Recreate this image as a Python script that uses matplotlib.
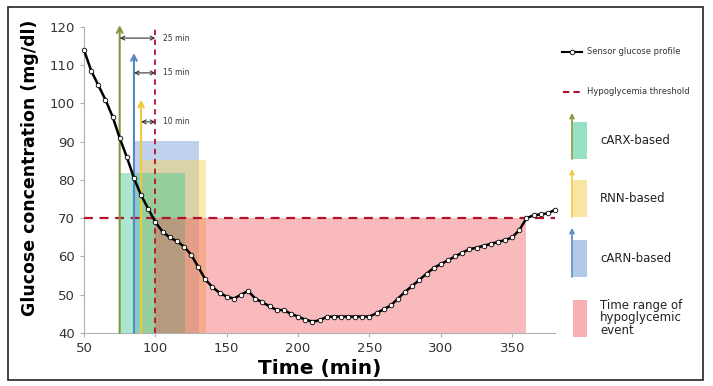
import matplotlib
matplotlib.use("Agg")
import matplotlib.pyplot as plt
from matplotlib.patches import Rectangle
import numpy as np

# ---- data ----
time_min = list(range(50, 385, 5))
glucose = [114, 108.6, 104.8, 101, 96.6, 91, 86, 80.5, 76, 72.5, 69,
           66.5, 65, 64, 62.6, 60.5, 57.3, 54, 52, 50.5, 49.5, 49, 50, 51,
           49, 48, 47, 46, 46, 45, 44.3, 43.5, 43, 43.3, 44.2, 44.3, 44.3, 44.3,
           44.3, 44.3, 44.3, 45.2, 46.2, 47.2, 49, 50.8, 52.3, 53.9, 55.5, 57,
           58, 59, 60, 61, 61.9, 62.3, 62.8, 63.3, 63.8, 64.3, 65, 66.9, 70,
           70.8, 71, 71.3, 72.2]
threshold = 70
event_start, event_end = 100, 360
methods = ["cARX-based", "RNN-based", "cARN-based"]
alarm_time = [75, 90, 85]             # prediction alarm times
range_end = [120.7, 135.4, 130.7]     # predicted-range end
range_top = [81.8, 85.2, 90.3]        # predicted level
arrow_top = [120.5, 101, 113.2]
lead_label = ["25 min", "10 min", "15 min"]
lead_y = [117.1, 95.2, 108]
x_ticks = [50, 100, 150, 200, 250, 300, 350]
y_ticks = [40, 50, 60, 70, 80, 90, 100, 110, 120]

fill_colors = ["#38c690", "#f8d465", "#7fa6dc"]
fill_alpha = [0.42, 0.5, 0.5]
draw_order = [2, 1, 0]   # blue, yellow, green on top
arrow_colors = ["#7f9a3c", "#f0c93a", "#5a86c2"]
red_fill = "#ee4a50"
red_alpha = 0.38
red_line = "#b3122c"

fig = plt.figure(figsize=(7.13, 3.86), dpi=100)
ax = fig.add_axes([84/713, 1-333/386, (555-84)/713, (333-27)/386])

# shaded ranges
for z, i in enumerate(draw_order):
    ax.add_patch(Rectangle((alarm_time[i], 40), range_end[i]-alarm_time[i],
                           range_top[i]-40, facecolor=fill_colors[i],
                           alpha=fill_alpha[i], edgecolor='none', zorder=1+z*0.1))
ax.add_patch(Rectangle((event_start, 40), event_end-event_start, threshold-40,
                       facecolor=red_fill, alpha=red_alpha, edgecolor='none', zorder=2))

# alarm arrows
for i in range(3):
    ax.annotate("", xy=(alarm_time[i], arrow_top[i]), xytext=(alarm_time[i], 40),
                arrowprops=dict(arrowstyle="->", color=arrow_colors[i], lw=1.5,
                                shrinkA=0, shrinkB=0), zorder=4,
                annotation_clip=False)
    ax.annotate("", xy=(alarm_time[i], lead_y[i]), xytext=(event_start, lead_y[i]),
                arrowprops=dict(arrowstyle="<->", color="#333333", lw=0.8,
                                shrinkA=0, shrinkB=0, mutation_scale=7), zorder=4)
    ax.text(105.5, lead_y[i], lead_label[i], fontsize=5.5, va='center', ha='left',
            color="#333333")

# threshold lines
ax.axhline(threshold, color=red_line, ls=(0, (4, 3)), lw=1.6, zorder=3)
ax.plot([event_start, event_start], [40, 120], color=red_line, ls=(0, (3, 2.5)),
        lw=1.3, zorder=3, clip_on=False)

# glucose profile
ax.plot(time_min, glucose, color='black', lw=1.8, marker='o', ms=3.3,
        mfc='white', mec='black', mew=0.6, zorder=5, clip_on=False)

ax.set_xlim(50, 380)
ax.set_ylim(40, 120)
ax.set_xticks(x_ticks)
ax.set_yticks(y_ticks)
for s in ['top', 'right']:
    ax.spines[s].set_visible(False)
for s in ['left', 'bottom']:
    ax.spines[s].set_color('#b0b0b0')
ax.tick_params(colors='#b0b0b0', labelcolor='#333333', labelsize=9.5, length=3)
ax.set_xlabel("Time (min)", fontsize=14.5, fontweight='bold', labelpad=3)
ax.set_ylabel("Glucose concentration (mg/dl)", fontsize=12.5, fontweight='bold')
ax.yaxis.set_label_coords(-0.095, 0.54)

# overlay for legend + frame (pixel coords)
ov = fig.add_axes([0, 0, 1, 1], facecolor='none')
ov.set_xlim(0, 713)
ov.set_ylim(386, 0)
ov.axis('off')
ov.add_patch(Rectangle((8, 7), 695, 373, fill=False, edgecolor='#222222', lw=1.2))

ov.plot([562, 582], [52, 52], color='black', lw=1.5)
ov.plot([572], [52], marker='o', ms=3.3, mfc='white', mec='black', mew=0.6)
ov.text(587, 52, "Sensor glucose profile", fontsize=6, va='center', color='#333333')
ov.plot([563, 582], [92, 92], color=red_line, ls=(0, (3, 2)), lw=1.5)
ov.text(587, 92, "Hypoglycemia threshold", fontsize=6, va='center', color='#333333')

leg_y = [(122, 159, 113), (180, 217, 169), (240, 277, 228)]
legend_idx = [0, 1, 2]
for k, (yt, yb, ya) in enumerate(leg_y):
    i = legend_idx[k]
    ov.add_patch(Rectangle((573, yt), 14, yb-yt, facecolor=fill_colors[i],
                           alpha=fill_alpha[i] + 0.1, edgecolor='none'))
    ov.annotate("", xy=(572, ya), xytext=(572, yb),
                arrowprops=dict(arrowstyle="->", color=arrow_colors[i], lw=1.2,
                                shrinkA=0, shrinkB=0, mutation_scale=7))
    ov.text(600, (yt+yb)/2, methods[i], fontsize=8.5, va='center',
            color='#222222')
ov.add_patch(Rectangle((573, 300), 14, 37, facecolor=red_fill, alpha=red_alpha + 0.05,
                       edgecolor='none'))
ov.text(600, 318, "Time range of\nhypoglycemic\nevent", fontsize=8.5, va='center',
        color='#222222', linespacing=1.0)

fig.savefig("out.png", dpi=100)
